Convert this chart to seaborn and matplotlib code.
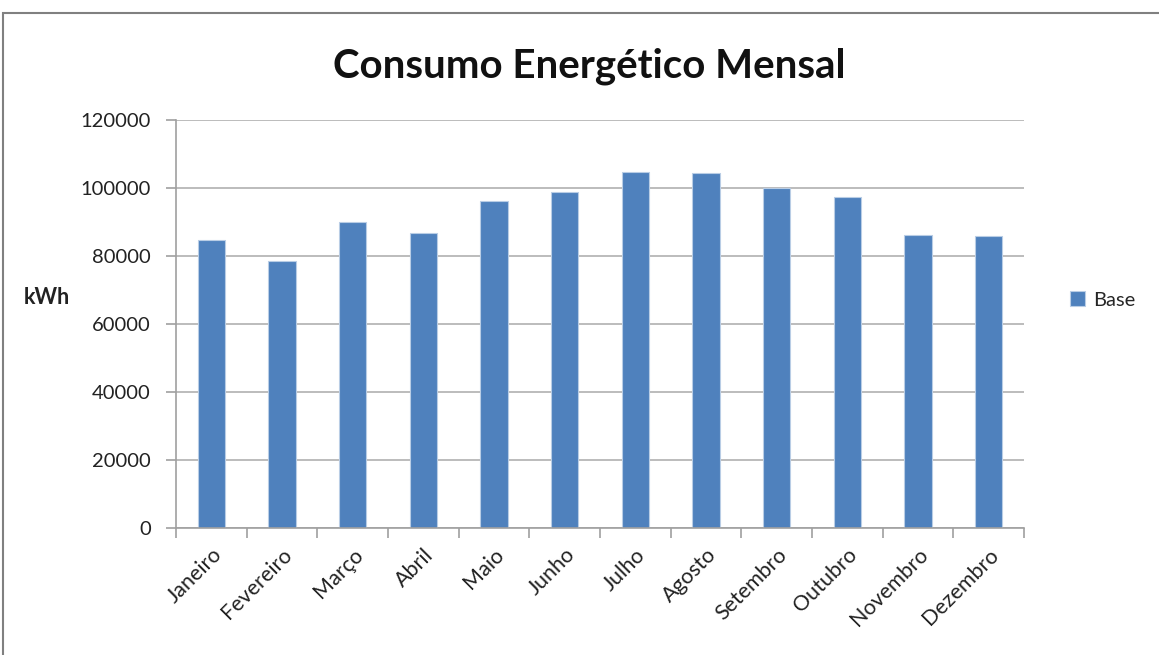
import matplotlib
matplotlib.use("Agg")
import matplotlib.pyplot as plt
import pandas as pd
import seaborn as sns
from matplotlib.patches import Rectangle
from matplotlib.ticker import FixedLocator

months = ["Janeiro", "Fevereiro", "Março", "Abril", "Maio", "Junho",
          "Julho", "Agosto", "Setembro", "Outubro", "Novembro", "Dezembro"]
consumo = [84800, 78400, 90100, 86700, 96100, 98800,
           104800, 104400, 100000, 97300, 86300, 85900]
series_name = "Base"
y_ticks = [0, 20000, 40000, 60000, 80000, 100000, 120000]

df = pd.DataFrame({"mes": months, "kWh": consumo, "serie": series_name})

sns.set_theme(style="white")
plt.rcParams["font.family"] = ["Lato", "DejaVu Sans"]

fig = plt.figure(figsize=(11.59, 6.55), dpi=100)
ax = fig.add_axes([176 / 1159, 1 - 528 / 655, 848 / 1159, 408 / 655])

sns.barplot(df, x="mes", y="kWh", hue="serie", palette=["#4f81bd"], saturation=1,
            width=0.39, edgecolor="#b9cde5", linewidth=0.8, ax=ax)

ax.set_xlim(-0.5, len(months) - 0.5)
ax.set_ylim(0, 120000)
ax.set_yticks(y_ticks)
ax.set_yticklabels([str(v) for v in y_ticks], fontsize=14.5, color="#222222")
ax.yaxis.grid(True, color="#b0b0b0", linewidth=1.2)
ax.set_axisbelow(True)

ax.set_xticks(range(len(months)))
ax.set_xticklabels(months, rotation=45, ha="right", rotation_mode="anchor",
                   fontsize=15.5, color="#222222")
ax.tick_params(axis="x", which="major", length=0, pad=12)
ax.xaxis.set_minor_locator(FixedLocator([i - 0.5 for i in range(len(months) + 1)]))
ax.tick_params(axis="x", which="minor", length=7, color="#a0a0a0", width=1.2, direction="out")
ax.tick_params(axis="y", length=7, color="#a0a0a0", width=1.2, direction="out", pad=11)
ax.tick_params(bottom=True, left=True, which="both")

for side in ["top", "right"]:
    ax.spines[side].set_visible(False)
for side in ["left", "bottom"]:
    ax.spines[side].set_color("#a0a0a0")
    ax.spines[side].set_linewidth(1.2)

ax.set_xlabel("")
ax.set_ylabel("")
fig.text(24 / 1159, 1 - 298 / 655, "kWh", fontsize=15.5, fontweight="bold",
         ha="left", va="center", color="#222222")

fig.text(589 / 1159, 1 - 66 / 655, "Consumo Energético Mensal", fontsize=29,
         fontweight="bold", ha="center", va="center", color="#111111")

leg = ax.legend(loc="center left", bbox_to_anchor=(1052 / 1159, 1 - 300 / 655),
                bbox_transform=fig.transFigure, frameon=False, fontsize=14.5,
                handlelength=0.75, handleheight=0.75, handletextpad=0.4)

fig.patches.append(Rectangle((3 / 1159, -0.1), 1.2, 1 - 13 / 655 + 0.1,
                             transform=fig.transFigure, fill=False,
                             edgecolor="#808080", linewidth=1.5))

fig.savefig("out.png", dpi=100)
